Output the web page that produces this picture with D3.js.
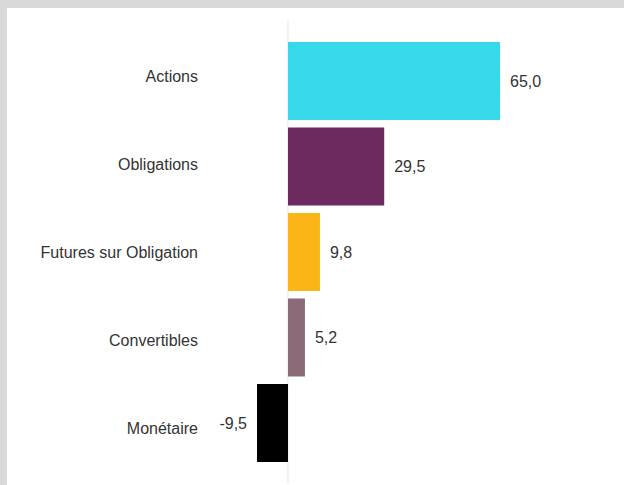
<!DOCTYPE html>
<html><head><meta charset="utf-8">
<script src="https://cdn.jsdelivr.net/npm/d3@7"></script>
<style>
html,body{margin:0;padding:0;background:#d9d9d9;}
svg{display:block;}
</style></head>
<body>
<script>
const categories = ["Actions", "Obligations", "Futures sur Obligation", "Convertibles", "Monétaire"];
const values = [65.0, 29.5, 9.8, 5.2, -9.5];
const colors = ["#36d8ea", "#6c2a5f", "#fab517", "#8c6b78", "#000000"];

const W = 624, H = 485;
const svg = d3.select("body").append("svg").attr("width", W).attr("height", H);
svg.append("rect").attr("x", 7).attr("y", 8).attr("width", W - 7).attr("height", H - 8).attr("fill", "#ffffff");

const x = d3.scaleLinear().domain([-9.5, 65]).range([257, 500]);
const y = d3.scaleBand().domain(categories).range([34.5, 469.5]).padding(0.0877);
const yLab = d3.scalePoint().domain(categories).range([76, 428]);

const fmt = v => d3.format(".1f")(v).replace(".", ",").replace("−", "-");

svg.append("line")
  .attr("x1", x(0)).attr("x2", x(0)).attr("y1", 20).attr("y2", 483)
  .attr("stroke", "#e6e6e6").attr("stroke-width", 1);

const data = categories.map((c, i) => ({c, v: values[i], col: colors[i]}));

svg.selectAll("rect.bar").data(data).enter().append("rect")
  .attr("class", "bar")
  .attr("x", d => x(Math.min(0, d.v)))
  .attr("width", d => Math.abs(x(d.v) - x(0)))
  .attr("y", d => y(d.c))
  .attr("height", y.bandwidth())
  .attr("fill", d => d.col);

const font = "'Liberation Sans', Arial, sans-serif";

svg.selectAll("text.val").data(data).enter().append("text")
  .attr("class", "val")
  .attr("x", d => d.v >= 0 ? x(d.v) + 10 : x(d.v) - 10)
  .attr("y", d => y(d.c) + y.bandwidth() / 2)
  .attr("dy", "0.35em")
  .attr("text-anchor", d => d.v >= 0 ? "start" : "end")
  .attr("font-family", font).attr("font-size", 16).attr("fill", "#333333")
  .text(d => fmt(d.v));

svg.selectAll("text.cat").data(data).enter().append("text")
  .attr("class", "cat")
  .attr("x", x(0) - 90)
  .attr("y", d => yLab(d.c))
  .attr("dy", "0.35em")
  .attr("text-anchor", "end")
  .attr("font-family", font).attr("font-size", 16).attr("fill", "#333333")
  .text(d => d.c);
</script>
</body></html>
